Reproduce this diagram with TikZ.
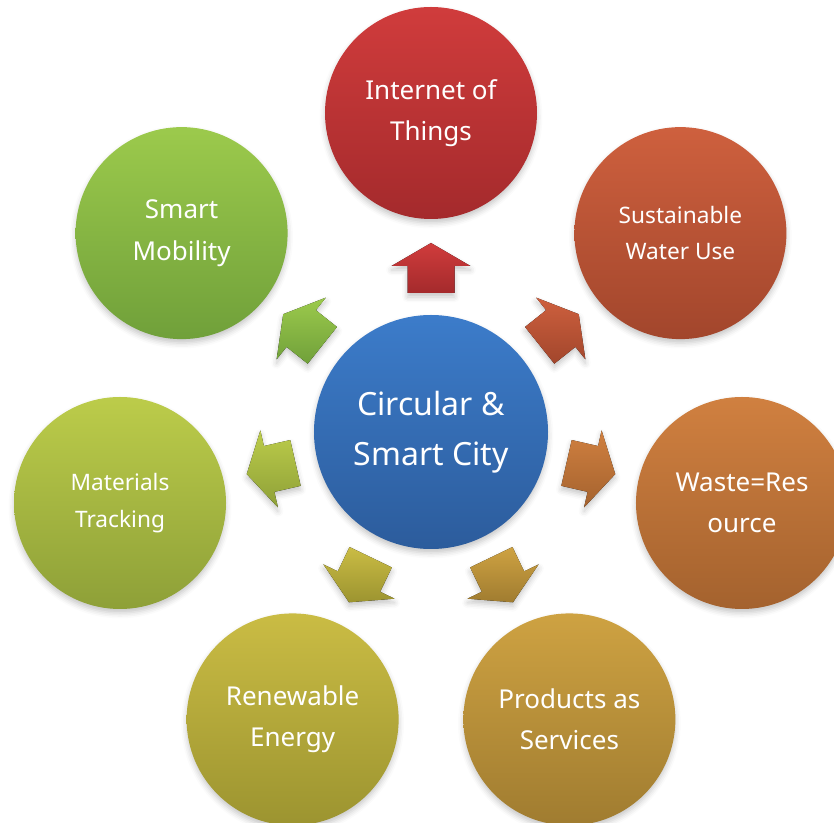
\documentclass[tikz,border=0pt]{standalone}
\usepackage{fontspec}
\setmainfont{Noto Sans}
\usetikzlibrary{shadows.blur}
\definecolor{hubtop}{RGB}{60,124,202}
\definecolor{hubbot}{RGB}{44,92,156}
\definecolor{iottop}{RGB}{208,60,60}
\definecolor{iotbot}{RGB}{164,42,44}
\definecolor{watertop}{RGB}{206,96,62}
\definecolor{waterbot}{RGB}{162,70,44}
\definecolor{wastetop}{RGB}{208,128,64}
\definecolor{wastebot}{RGB}{164,98,46}
\definecolor{servicetop}{RGB}{206,162,66}
\definecolor{servicebot}{RGB}{160,124,48}
\definecolor{energytop}{RGB}{202,188,68}
\definecolor{energybot}{RGB}{156,148,48}
\definecolor{trackingtop}{RGB}{188,204,74}
\definecolor{trackingbot}{RGB}{142,160,56}
\definecolor{mobilitytop}{RGB}{156,202,76}
\definecolor{mobilitybot}{RGB}{112,160,58}

\begin{document}
\begin{tikzpicture}[x=0.75pt,y=0.75pt,
  soft/.style={blur shadow={shadow xshift=0pt,shadow yshift=-3pt,shadow blur radius=4pt,shadow opacity=22}},
  bubble/.style={circle,minimum size=159pt,inner sep=0pt,align=center,text=white,
    font=\fontsize{19.5}{31}\selectfont,soft,top color=#1top,bottom color=#1bot,
    execute at begin node={\rule{0pt}{0.95em}}},
  smalltext/.style={font=\fontsize{17}{27.5}\selectfont}]
  \useasboundingbox (-431,-391) rectangle (403,432);
  % hub in the middle
  \node[bubble=hub,minimum size=175.5pt,font=\fontsize{24}{37.5}\selectfont] (hub) at (0,0) {Circular \&\\Smart City};
  % outer ring, one circle every 360/7 degrees
  \node[bubble=iot] (iot) at (90:319) {Internet of\\Things};
  \node[bubble=water,smalltext] (water) at (38.57:319) {Sustainable\\Water Use};
  \node[bubble=waste] (waste) at (-12.86:319) {Waste=Res\\ource};
  \node[bubble=service] (service) at (-64.29:319) {Products as\\Services};
  \node[bubble=energy] (energy) at (-115.71:319) {Renewable\\Energy};
  \node[bubble=tracking,smalltext] (tracking) at (-167.14:319) {Materials\\Tracking};
  \node[bubble=mobility] (mobility) at (141.43:319) {Smart\\Mobility};
  % block arrows pointing out of the hub
  \foreach \a/\col in {90/iot,38.57/water,-12.86/waste,-64.29/service,-115.71/energy,-167.14/tracking,141.43/mobility}
    \fill[soft,top color=\col top,bottom color=\col bot,rotate=\a-90]
      (-23.5,139) -- (23.5,139) -- (23.5,166) -- (39.5,166) -- (0,189)
      -- (-39.5,166) -- (-23.5,166) -- cycle;
\end{tikzpicture}
\end{document}
